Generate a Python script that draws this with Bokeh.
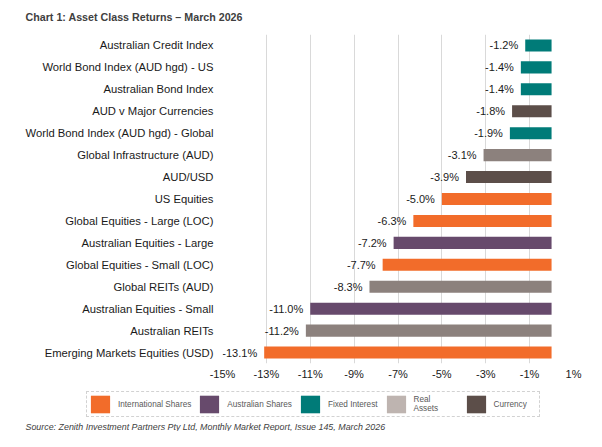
from bokeh.plotting import figure
from bokeh.layouts import column
from bokeh.models import (ColumnDataSource, FactorRange, Range1d, FixedTicker,
                          PrintfTickFormatter, Legend, LegendItem, Label)
from bokeh.embed import file_html
from bokeh.resources import INLINE

categories = [
    "Australian Credit Index",
    "World Bond Index (AUD hgd) - US",
    "Australian Bond Index",
    "AUD v Major Currencies",
    "World Bond Index (AUD hgd) - Global",
    "Global Infrastructure (AUD)",
    "AUD/USD",
    "US Equities",
    "Global Equities - Large (LOC)",
    "Australian Equities - Large",
    "Global Equities - Small (LOC)",
    "Global REITs (AUD)",
    "Australian Equities - Small",
    "Australian REITs",
    "Emerging Markets Equities (USD)",
]
returns = [-1.2, -1.4, -1.4, -1.8, -1.9, -3.1, -3.9, -5.0, -6.3, -7.2, -7.7, -8.3, -11.0, -11.2, -13.1]
asset_class = ["Fixed Interest", "Fixed Interest", "Fixed Interest", "Currency", "Fixed Interest",
               "Real Assets", "Currency", "International Shares", "International Shares",
               "Australian Shares", "International Shares", "Real Assets", "Australian Shares",
               "Real Assets", "International Shares"]
class_names = ["International Shares", "Australian Shares", "Fixed Interest", "Real Assets", "Currency"]
legend_labels = ["International Shares", "Australian Shares", "Fixed Interest", "Real\nAssets", "Currency"]
x_ticks = [-15, -13, -11, -9, -7, -5, -3, -1, 1]

bar_colors = {"International Shares": "#F26C2A", "Australian Shares": "#674A6C",
              "Fixed Interest": "#007B78", "Real Assets": "#8C817D", "Currency": "#5C4E49"}
legend_colors = {"International Shares": "#F26C2A", "Australian Shares": "#674A6C",
                 "Fixed Interest": "#007B78", "Real Assets": "#BEB4B0", "Currency": "#5C4E49"}

src = ColumnDataSource(dict(
    cat=categories, val=returns, cls=asset_class,
    color=[bar_colors[c] for c in asset_class],
    lbl=[f"{v:.1f}%" for v in returns],
))

FONT = "Liberation Sans"
W = 586

p = figure(width=W, height=385, output_backend="svg", toolbar_location=None,
           y_range=FactorRange(*reversed(categories)), x_range=Range1d(-15, 1),
           min_border_left=222, min_border_right=13, min_border_top=34, min_border_bottom=22)
p.frame_align = False
p.outline_line_color = None
p.background_fill_color = "white"
p.border_fill_color = "white"

p.title.text = "Chart 1: Asset Class Returns \u2013 March 2026"
p.title.text_font = FONT
p.title.text_font_size = "10.7px"
p.title.text_font_style = "bold"
p.title.text_color = "#404040"
p.title.align = "left"
p.title.offset = -197
p.title.vertical_align = "top"
p.title.standoff = 20

p.hbar(y="cat", left=0, right="val", height=0.55, source=src,
       fill_color="color", line_color=None)

p.text(x="val", y="cat", text="lbl", source=src, text_align="right", text_baseline="middle",
       x_offset=-7, text_font_size="11px", text_color="#1a1a1a", text_font={"value": FONT})

# axes
p.xaxis.ticker = FixedTicker(ticks=x_ticks)
p.xaxis.formatter = PrintfTickFormatter(format="%d%%")
p.xaxis.axis_line_color = None
p.xaxis.major_tick_line_color = None
p.xaxis.minor_tick_line_color = None
p.xaxis.major_tick_out = 0
p.xaxis.major_tick_in = 0
p.xaxis.major_label_standoff = 4
p.xaxis.major_label_text_font = FONT
p.xaxis.major_label_text_font_size = "11px"
p.xaxis.major_label_text_color = "#1a1a1a"

p.yaxis.axis_line_color = None
p.yaxis.major_tick_line_color = None
p.yaxis.minor_tick_line_color = None
p.yaxis.major_tick_out = 0
p.yaxis.major_tick_in = 0
p.yaxis.major_label_standoff = 9
p.yaxis.major_label_text_font = FONT
p.yaxis.major_label_text_font_size = "11.25px"
p.yaxis.major_label_text_color = "#1a1a1a"

p.xgrid.grid_line_color = "#D9D9D9"
p.ygrid.grid_line_color = None

# --- legend + source strip ---
H2 = 46
q = figure(width=W, height=H2, output_backend="svg", toolbar_location=None, title=None,
           x_range=Range1d(0, W), y_range=Range1d(0, H2),
           x_axis_location=None, y_axis_location=None, min_border=0)
q.frame_align = False
q.outline_line_color = None
q.grid.grid_line_color = None
q.background_fill_color = "white"
q.border_fill_color = "white"

nan = float("nan")
leg_src = ColumnDataSource(dict(
    name=class_names,
    color=[legend_colors[c] for c in class_names],
    l=[nan] * len(class_names), r=[nan] * len(class_names),
    t=[nan] * len(class_names), b=[nan] * len(class_names),
))
proxy = q.quad(left="l", right="r", top="t", bottom="b", source=leg_src,
               fill_color="color", line_color=None)
items = [LegendItem(label=lab, renderers=[proxy], index=i) for i, lab in enumerate(legend_labels)]

legend = Legend(items=items, orientation="horizontal", location=(86, 14),
                glyph_width=24, glyph_height=22, label_standoff=6, spacing=6,
                label_width=44, padding=1, margin=0,
                label_text_font=FONT, label_text_font_size="8.2px", label_text_color="#595959",
                border_line_color="#A6A6A6", border_line_dash="2 1", border_line_width=1,
                background_fill_alpha=1.0, background_fill_color="white")
q.add_layout(legend, "center")

src_label = Label(x=25, y=5, x_units="screen", y_units="screen",
                  text="Source: Zenith Investment Partners Pty Ltd, Monthly Market Report, Issue 145, March 2026",
                  text_font=FONT, text_font_size="8.9px", text_font_style="italic",
                  text_color="#404040", text_baseline="middle")
q.add_layout(src_label)

layout = column(p, q, spacing=0)
open("out.html", "w").write(file_html(layout, INLINE))
